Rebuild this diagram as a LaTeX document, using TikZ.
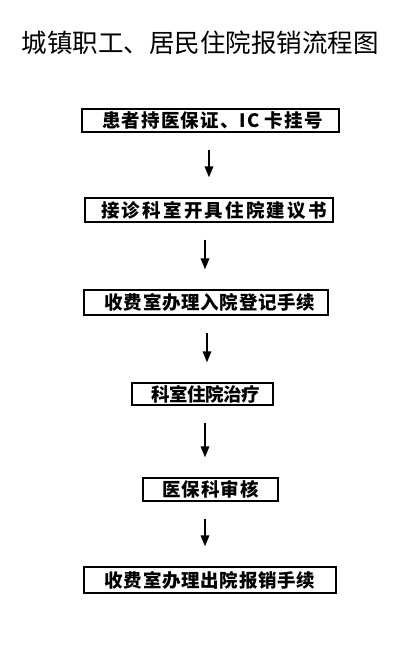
\documentclass[tikz,border=0pt]{standalone}
\usepackage{fontspec}
\usetikzlibrary{arrows.meta}
\newfontfamily\cjk{Noto Sans CJK SC}
\tikzset{
  box/.style={draw, line width=1.3pt, inner sep=0pt, anchor=center,
    font=\cjk\bfseries\fontsize{18.5}{18.5}\selectfont},
  arr/.style={line width=1.7pt, -{Triangle[width=8.5pt,length=11pt]},
    shorten <=17pt, shorten >=20pt}
}
\begin{document}
\begin{tikzpicture}[x=1pt,y=-1pt]
\useasboundingbox (0,0) rectangle (405,650);
\node[font=\cjk\fontsize{25.5}{26}\selectfont] (title) at (200,43) {城镇职工、居民住院报销流程图};
\node[box, minimum width=257pt, minimum height=23pt] (b1) at (210.5,120.5) {\hspace*{4pt}\addfontfeature{LetterSpace=6}患者持医保证、IC 卡挂号};
\node[box, minimum width=248pt, minimum height=24pt] (b2) at (209,210) {\hspace*{10pt}\addfontfeature{LetterSpace=12}接诊科室开具住院建议书};
\node[box, minimum width=244pt, minimum height=25pt] (b3) at (206,302.5) {\hspace*{8pt}\addfontfeature{LetterSpace=4}收费室办理入院登记手续};
\node[box, minimum width=141pt, minimum height=22pt] (b4) at (202.5,394) {\hspace*{6pt}\addfontfeature{LetterSpace=-3}科室住院治疗};
\node[box, minimum width=135pt, minimum height=23pt] (b5) at (210.5,489.5) {\addfontfeature{LetterSpace=5}医保科审核};
\node[box, minimum width=252pt, minimum height=26pt] (b6) at (210,580) {\addfontfeature{LetterSpace=4}收费室办理出院报销手续};
\draw[arr] ([xshift=-1.5pt]b1.south) -- ([xshift=-1.5pt]b1.south |- b2.north);
\draw[arr] ([xshift=-4pt]b2.south) -- ([xshift=-4pt]b2.south |- b3.north);
\draw[arr] ([xshift=1pt]b3.south) -- ([xshift=1pt]b3.south |- b4.north);
\draw[arr] ([xshift=2.5pt]b4.south) -- ([xshift=2.5pt]b4.south |- b5.north);
\draw[arr] ([xshift=-5.5pt]b5.south) -- ([xshift=-5.5pt]b5.south |- b6.north);
\end{tikzpicture}
\end{document}
